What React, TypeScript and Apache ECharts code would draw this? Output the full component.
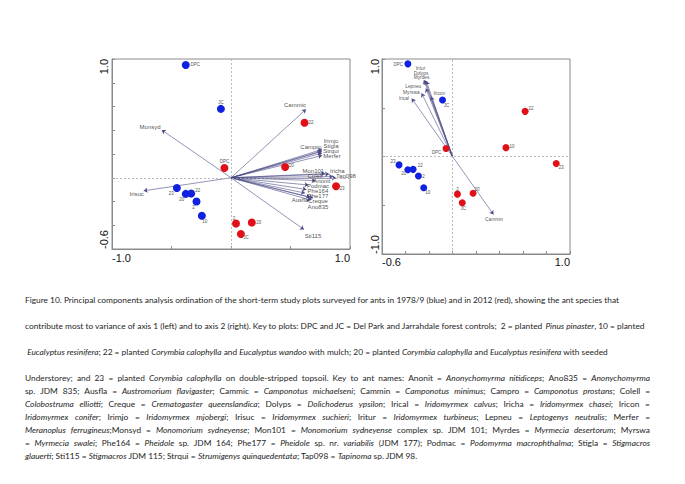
import React, { useEffect, useRef } from 'react';
import * as echarts from 'echarts';

// ---- Plot scores (PCA axis 1 = x, axis 2 = y) ----
const plotIds = ['DPC', 'JC', '2', '10', '20', '22', '23'];
const blueAxis1 = [-0.38, -0.085, -0.29, -0.245, -0.38, -0.335, -0.455];
const blueAxis2 = [0.95, 0.58, -0.2, -0.32, -0.136, -0.132, -0.086];
const redAxis1 = [-0.055, 0.083, 0.042, 0.455, 0.175, 0.618, 0.883];
const redAxis2 = [0.082, -0.474, -0.386, 0.091, -0.377, 0.463, -0.072];

// ---- Species vectors, left panel (axis 1) ----
const axis1Species = ['Monsyd', 'Irisuc', 'Cammic', 'Campro', 'Irimjo', 'Stigla', 'Strqui', 'Merfer', 'Mon101', 'Iricha', 'Colell', 'Tap098', 'Anonit', 'Podmac', 'Phe164', 'Phe177', 'Ausfla', 'Creque', 'Ano835', 'Sti115'];
const axis1LoadX = [-0.582, -0.734, 0.63, 0.756, 0.765, 0.765, 0.765, 0.765, 0.79, 0.824, 0.857, 0.882, 0.71, 0.651, 0.634, 0.622, 0.664, 0.689, 0.672, 0.613];
const axis1LoadY = [0.402, -0.11, 0.576, 0.221, 0.238, 0.225, 0.208, 0.187, 0.035, 0.031, 0.01, 0, -0.024, -0.061, -0.099, -0.129, -0.163, -0.171, -0.188, -0.436];

// ---- Species vectors, right panel (axis 2) ----
const axis2Species = ['Iritur', 'Dolyps', 'Myrdes', 'Lepneu', 'Myrswa', 'Irical', 'Iricon', 'Cammin'];
const axis2LoadX = [-0.243, -0.234, -0.223, -0.226, -0.263, -0.347, -0.183, 0.349];
const axis2LoadY = [0.785, 0.779, 0.774, 0.697, 0.65, 0.595, 0.615, -0.595];

// ---- Tick labels (min, max) ----
const leftXLabels = ['-1.0', '1.0'];
const leftYLabels = ['-0.6', '1.0'];
const rightXLabels = ['-0.6', '1.0'];
const rightYLabels = ['-1.0', '1.0'];

// ---- Caption ----
const captionLines = [
  'Figure 10. Principal components analysis ordination of the short-term study plots surveyed for ants in 1978/9 (blue) and in 2012 (red), showing the ant species that',
  'contribute most to variance of axis 1 (left) and to axis 2 (right). Key to plots: DPC and JC = Del Park and Jarrahdale forest controls;  2 = planted {i|Pinus pinaster}, 10 = planted',
  ' {i|Eucalyptus resinifera}; 22 = planted {i|Corymbia calophylla} and {i|Eucalyptus wandoo} with mulch; 20 = planted {i|Corymbia calophylla} and {i|Eucalyptus resinifera} with seeded',
  'Understorey; and 23 = planted {i|Corymbia calophylla} on double-stripped topsoil. Key to ant names: Anonit = {i|Anonychomyrma nitidiceps}; Ano835 = {i|Anonychomyrma}',
  'sp. JDM 835; Ausfla = {i|Austromorium flavigaster}; Cammic = {i|Camponotus michaelseni}; Cammin = {i|Camponotus minimus}; Campro = {i|Camponotus prostans}; Colell =',
  '{i|Colobostruma elliotti}; Creque = {i|Crematogaster queenslandica}; Dolyps = {i|Dolichoderus ypsilon}; Irical = {i|Iridomyrmex calvus}; Iricha = {i|Iridomyrmex chasei}; Iricon =',
  '{i|Iridomyrmex conifer}; Irimjo = {i|Iridomyrmex mjobergi}; Irisuc = {i|Iridomyrmex suchieri}; Iritur = {i|Iridomyrmex turbineus}; Lepneu = {i|Leptogenys neutralis}; Merfer =',
  '{i|Meranoplus ferrugineus};Monsyd = {i|Monomorium sydneyense}; Mon101 = {i|Monomorium sydneyense} complex sp. JDM 101; Myrdes = {i|Myrmecia desertorum}; Myrswa',
  '= {i|Myrmecia swalei}; Phe164 = {i|Pheidole} sp. JDM 164; Phe177 = {i|Pheidole} sp. nr. {i|variabilis} (JDM 177); Podmac = {i|Podomyrma macrophthalma}; Stigla = {i|Stigmacros}',
  '{i|glauerti}; Sti115 = {i|Stigmacros} JDM 115; Strqui = {i|Strumigenys quinquedentata}; Tap098 = {i|Tapinoma} sp. JDM 98.',
];

// ---- Layout / style (not data) ----
const captionY = [300, 326, 352, 378, 391, 404, 417, 430, 443, 456];
const justifiedLines = [3, 4, 5, 6, 7, 8];
const CAP_X = 25;
const CAP_RIGHT = 650;
const CAP_FS = 8.35;
const CAP_FONT = 'Lato';
const CAP_COLOR = '#1e1e1e';

const leftBlueOff: Record<string, number[]> = { DPC: [9.5, 0], JC: [0, -6.5], '2': [-3, 5.5], '10': [3, 5.5], '20': [-4, 5.5], '22': [6.5, -2.5], '23': [-5.5, 5.5] };
const leftRedOff: Record<string, number[]> = { DPC: [0, -6.5], JC: [5, 3], '2': [-2, -5.5], '10': [6, -1.5], '20': [7, 0], '22': [6.5, 0], '23': [6, 2.5] };
const rightBlueOff: Record<string, number[]> = { DPC: [-9.5, 1], JC: [4, 5.5], '2': [5, 0.5], '10': [4, 5], '20': [-4, 4], '22': [7, -4], '23': [-6, -3.5] };
const rightRedOff: Record<string, number[]> = { DPC: [-9.5, 3.5], JC: [1, 6], '2': [0, -5], '10': [6, -1.5], '20': [4, -4], '22': [6, -2.5], '23': [5, 4] };
const axis1LabelOff: Record<string, number[]> = {
  Monsyd: [-11.7, -3], Irisuc: [-7, 3.3], Cammic: [-11, -4.3], Campro: [-10, -5], Irimjo: [9, -8], Stigla: [9, -5], Strqui: [9, -2.5], Merfer: [10, 0],
  Mon101: [-11.7, -2.8], Iricha: [8.3, -3.3], Colell: [-18, -0.5], Tap098: [10, -1.7], Anonit: [6.2, 0.2], Podmac: [9.5, 1], Phe164: [11.5, 1.5],
  Phe177: [13, 3], Ausfla: [-10, 3], Creque: [5, 3], Ano835: [7, 6.5], Sti115: [9, 6.5],
};
const axis2LabelOff: Record<string, number[]> = {
  Iritur: [-3.5, -11.2], Dolyps: [-4, -7.3], Myrdes: [-4.8, -3.5], Lepneu: [-12.7, -2], Myrswa: [-10.3, -0.6], Irical: [-7.7, -0.3], Iricon: [8.3, -3.3], Cammin: [0.5, 5],
};

const BLUE = '#1020e0';
const RED = '#e01018';
const VEC = '#4b4b88';
const AXIS = '#8a8a8a';
const SANS = 'Liberation Sans, Arial, sans-serif';

function endFormatter(labels: string[], min: number, max: number) {
  return (v: number) => (Math.abs(v - min) < 1e-6 ? labels[0] : Math.abs(v - max) < 1e-6 ? labels[1] : '');
}

function makeAxis(gridIndex: number, labels: string[], interval: number, isY: boolean, margin: number) {
  const min = parseFloat(labels[0]);
  const max = parseFloat(labels[1]);
  return {
    type: 'value',
    gridIndex,
    min,
    max,
    interval,
    axisLine: { show: true, onZero: false, lineStyle: { color: AXIS, width: 1 } },
    axisTick: { show: true, inside: true, length: 3, lineStyle: { color: AXIS } },
    splitLine: { show: false },
    axisLabel: {
      show: true,
      showMinLabel: true,
      showMaxLabel: true,
      hideOverlap: false,
      margin,
      fontSize: 11,
      fontFamily: SANS,
      color: '#111',
      rotate: isY ? 90 : 0,
      alignMinLabel: 'left',
      alignMaxLabel: 'right',
      formatter: endFormatter(labels, min, max),
    },
  };
}

function pointSeries(gi: number, xs: number[], ys: number[], color: string, offs: Record<string, number[]>, size: number) {
  return {
    type: 'scatter',
    xAxisIndex: gi,
    yAxisIndex: gi,
    symbolSize: size,
    z: 5,
    itemStyle: { color, opacity: 1 },
    data: plotIds.map((id, i) => ({
      name: id,
      value: [xs[i], ys[i]],
      label: {
        show: true,
        position: 'inside',
        offset: offs[id],
        formatter: id,
        fontSize: 4.5,
        fontFamily: SANS,
        color: '#555',
        align: 'center',
        verticalAlign: 'middle',
      },
    })),
  };
}

function vectorSeries(gi: number, xs: number[], ys: number[]) {
  return {
    type: 'lines',
    coordinateSystem: 'cartesian2d',
    xAxisIndex: gi,
    yAxisIndex: gi,
    z: 3,
    symbol: ['none', 'arrow'],
    symbolSize: 4,
    lineStyle: { color: VEC, width: 0.6, opacity: 1 },
    data: xs.map((x, i) => ({ coords: [[0, 0], [x, ys[i]]] })),
  };
}

function vectorLabelSeries(gi: number, names: string[], xs: number[], ys: number[], offs: Record<string, number[]>, fs: number) {
  return {
    type: 'scatter',
    xAxisIndex: gi,
    yAxisIndex: gi,
    symbolSize: 0,
    z: 4,
    itemStyle: { color: 'transparent' },
    data: names.map((n, i) => ({
      name: n,
      value: [xs[i], ys[i]],
      label: {
        show: true,
        position: 'inside',
        offset: offs[n],
        formatter: n,
        fontSize: fs,
        fontFamily: SANS,
        color: '#222',
        align: 'center',
        verticalAlign: 'middle',
      },
    })),
  };
}

const zeroLines = {
  silent: true,
  symbol: 'none',
  label: { show: false },
  lineStyle: { color: '#a8a8a8', type: [2, 2], width: 0.8 },
  data: [{ xAxis: 0 }, { yAxis: 0 }],
};

// Build a justified rich-text string: spaces become fixed-width tokens.
function justify(line: string, ctx: CanvasRenderingContext2D | null): string {
  const segs: { t: string; it: boolean }[] = [];
  const re = /\{i\|([^}]*)\}/g;
  let last = 0;
  let m: RegExpExecArray | null;
  while ((m = re.exec(line))) {
    if (m.index > last) segs.push({ t: line.slice(last, m.index), it: false });
    segs.push({ t: m[1], it: true });
    last = m.index + m[0].length;
  }
  if (last < line.length) segs.push({ t: line.slice(last), it: false });
  const toks: { t: string; it: boolean; sp: boolean }[] = [];
  segs.forEach((s) => {
    s.t.split(/( )/).forEach((p) => {
      if (p === '') return;
      toks.push({ t: p, it: s.it, sp: p === ' ' });
    });
  });
  if (!ctx) return line;
  let w = 0;
  let gaps = 0;
  toks.forEach((tk) => {
    if (tk.sp) { gaps++; return; }
    ctx.font = `${tk.it ? 'italic ' : ''}${CAP_FS}px ${CAP_FONT}`;
    w += ctx.measureText(tk.t).width;
  });
  const gap = gaps > 0 ? Math.max(1.5, (CAP_RIGHT - CAP_X - w) / gaps) : 2;
  (justify as any).gap = (justify as any).gap || {};
  return toks
    .map((tk) => (tk.sp ? `{s${Math.round(gap * 100)}| }` : `{${tk.it ? 'i' : 'n'}|${tk.t}}`))
    .join('');
}

export default function App() {
  const ref = useRef<HTMLDivElement>(null);
  useEffect(() => {
    if (!ref.current) return;
    const chart = echarts.init(ref.current, undefined, { renderer: 'svg' });
    const canvas = document.createElement('canvas');
    const ctx = canvas.getContext('2d');

    const baseStyle = { fontSize: CAP_FS, fontFamily: CAP_FONT, fill: CAP_COLOR };
    const captionGraphics = captionLines.map((t, i) => {
      let text = t;
      const rich: any = {
        i: { ...baseStyle, fontStyle: 'italic' },
        n: { ...baseStyle },
      };
      if (justifiedLines.includes(i)) {
        text = justify(t, ctx);
        const mm = text.match(/\{s(\d+)\|/);
        if (mm) rich['s' + mm[1]] = { ...baseStyle, width: parseInt(mm[1], 10) / 100 };
      }
      return {
        type: 'text',
        x: CAP_X,
        y: captionY[i],
        style: { text, ...baseStyle, verticalAlign: 'middle', rich },
      };
    });

    const blueLeft: any = pointSeries(0, blueAxis1, blueAxis2, BLUE, leftBlueOff, 8);
    blueLeft.markLine = zeroLines;
    const blueRight: any = pointSeries(1, blueAxis1, blueAxis2, BLUE, rightBlueOff, 7);
    blueRight.markLine = zeroLines;
    const option: any = {
      animation: false,
      backgroundColor: '#ffffff',
      grid: [
        { left: 112, top: 59, width: 238, height: 190, show: true, borderColor: AXIS, borderWidth: 1, backgroundColor: 'transparent', containLabel: false, outerBoundsMode: 'none' },
        { left: 382, top: 59, width: 188, height: 195, show: true, borderColor: AXIS, borderWidth: 1, backgroundColor: 'transparent', containLabel: false, outerBoundsMode: 'none' },
      ],
      xAxis: [makeAxis(0, leftXLabels, 0.5, false, 3), makeAxis(1, rightXLabels, 0.2, false, 2)],
      yAxis: [makeAxis(0, leftYLabels, 0.2, true, 3), makeAxis(1, rightYLabels, 0.5, true, 2)],
      series: [
        vectorSeries(0, axis1LoadX, axis1LoadY),
        vectorLabelSeries(0, axis1Species, axis1LoadX, axis1LoadY, axis1LabelOff, 6),
        blueLeft,
        pointSeries(0, redAxis1, redAxis2, RED, leftRedOff, 8),
        vectorSeries(1, axis2LoadX, axis2LoadY),
        vectorLabelSeries(1, axis2Species, axis2LoadX, axis2LoadY, axis2LabelOff, 4.8),
        blueRight,
        pointSeries(1, redAxis1, redAxis2, RED, rightRedOff, 7),
      ],
      graphic: captionGraphics,
    };
    chart.setOption(option);
    return () => chart.dispose();
  }, []);
  return <div ref={ref} style={{ position: 'fixed', left: 0, top: 0, width: 685, height: 484, background: '#fff' }} />;
}
